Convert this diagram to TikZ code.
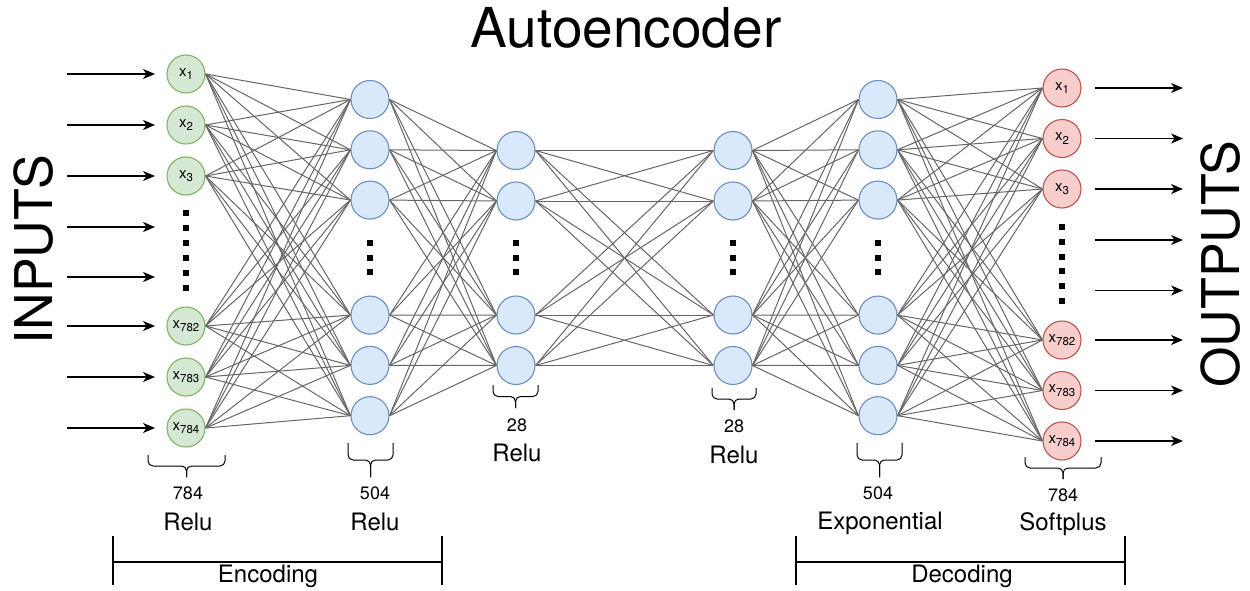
\documentclass[tikz,border=0pt]{standalone}
\usepackage{fontspec}
\setmainfont{TeX Gyre Heros}
\usepackage{xcolor}
\usepackage{tikz}
\usetikzlibrary{arrows.meta,positioning}

\definecolor{inFill}{HTML}{D5E8D4}
\definecolor{inLine}{HTML}{82B366}
\definecolor{hidFill}{HTML}{DAE8FC}
\definecolor{hidLine}{HTML}{6C8EBF}
\definecolor{outFill}{HTML}{F8CECC}
\definecolor{outLine}{HTML}{B85450}
\definecolor{wireGray}{HTML}{666666}

% x with a lowered index, as in the input/output units
\newcommand{\xsub}[1]{x\raisebox{-3.5pt}{\fontsize{11.5}{11.5}\selectfont #1}}

% curly brace under a layer: left, right, top, tip
\newcommand{\layerbrace}[4]{%
  \draw[line width=1pt, rounded corners=5pt] (#1,#3) -- (#1,{(#3+#4)/2}) -- ({(#1+#2)/2},{(#3+#4)/2}) -- ({(#1+#2)/2},#4);
  \draw[line width=1pt, rounded corners=5pt] (#2,#3) -- (#2,{(#3+#4)/2}) -- ({(#1+#2)/2},{(#3+#4)/2}) -- ({(#1+#2)/2},#4);
}

\begin{document}
\begin{tikzpicture}[x=1pt, y=-1pt, on grid, node distance=50.5pt]

\tikzstyle{neuron}=[
    circle,
    draw,
    line width=1.1pt,
    minimum size=38pt,
    inner sep=0pt,
    font=\fontsize{15}{15}\selectfont
]
\tikzstyle{innode}=[neuron, fill=inFill, draw=inLine]
\tikzstyle{hidnode}=[neuron, fill=hidFill, draw=hidLine]
\tikzstyle{outnode}=[neuron, fill=outFill, draw=outLine]
\tikzstyle{vdot}=[rectangle, fill=black, minimum size=6pt, inner sep=0pt]
\tikzstyle{wire}=[draw=wireGray, line width=1pt]
\tikzstyle{signal}=[-{Stealth[length=12pt, width=10pt, inset=3.5pt]}, line width=1.1pt]
\tikzstyle{bar}=[line width=2pt]
\tikzstyle{sizelabel}=[anchor=base, inner sep=0pt, font=\fontsize{18}{18}\selectfont]
\tikzstyle{actlabel}=[anchor=base, inner sep=0pt, font=\fontsize{24}{24}\selectfont]

\useasboundingbox (0,0) rectangle (1250,591);

% title and side captions
\node[anchor=base, font=\fontsize{55}{55}\selectfont] (Title) at (626,48) {Autoencoder};
\node[rotate=90, inner sep=0pt, font=\fontsize{52}{52}\selectfont] (In) at (34,250) {INPUTS};
\node[rotate=90, inner sep=0pt, font=\fontsize{52}{52}\selectfont] (Out) at (1221,264) {OUTPUTS};

% input layer
\node[innode] (I_1) at (186,74) {\xsub{1}};
\node[innode] (I_2) [below=51pt of I_1] {\xsub{2}};
\node[innode] (I_3) [below=51pt of I_2] {\xsub{3}};
\node[innode] (I_4) [below=150pt of I_3] {\xsub{782}};
\node[innode] (I_5) [below=51pt of I_4] {\xsub{783}};
\node[innode] (I_6) [below=51pt of I_5] {\xsub{784}};

% encoder hidden layer
\node[hidnode] (A_1) at (370,99.5) {};
\node[hidnode] (A_2) [below=50.3pt of A_1] {};
\node[hidnode] (A_3) [below=50.3pt of A_2] {};
\node[hidnode] (A_4) [below=115pt of A_3] {};
\node[hidnode] (A_5) [below=50.3pt of A_4] {};
\node[hidnode] (A_6) [below=50.3pt of A_5] {};

% code layers
\node[hidnode] (B_1) at (516,150.5) {};
\node[hidnode] (B_2) [below=of B_1] {};
\node[hidnode] (B_3) [below=114pt of B_2] {};
\node[hidnode] (B_4) [below=of B_3] {};

\node[hidnode] (C_1) at (733,150.5) {};
\node[hidnode] (C_2) [below=of C_1] {};
\node[hidnode] (C_3) [below=114pt of C_2] {};
\node[hidnode] (C_4) [below=of C_3] {};

% decoder hidden layer
\node[hidnode] (D_1) at (878,99.5) {};
\node[hidnode] (D_2) [below=50.3pt of D_1] {};
\node[hidnode] (D_3) [below=50.3pt of D_2] {};
\node[hidnode] (D_4) [below=115pt of D_3] {};
\node[hidnode] (D_5) [below=50.3pt of D_4] {};
\node[hidnode] (D_6) [below=50.3pt of D_5] {};

% output layer
\node[outnode] (O_1) at (1062,88) {\xsub{1}};
\node[outnode] (O_2) [below=of O_1] {\xsub{2}};
\node[outnode] (O_3) [below=of O_2] {\xsub{3}};
\node[outnode] (O_4) [below=151pt of O_3] {\xsub{782}};
\node[outnode] (O_5) [below=of O_4] {\xsub{783}};
\node[outnode] (O_6) [below=of O_5] {\xsub{784}};

% skipped units
\foreach \k in {0,...,5} \node[vdot] (I_dot\k) at (186,{213+15*\k}) {};
\foreach \k in {0,...,5} \node[vdot] (O_dot\k) at (1062,{227+14.8*\k}) {};
\foreach \col/\x in {A/370, B/516, C/733, D/878}
    \foreach \k in {0,1,2} \node[vdot] (\col_dot\k) at (\x,{243+14.5*\k}) {};

% weights
\foreach \i in {1,...,6} \foreach \j in {1,...,6} \path[wire] (I_\i.east) -- (A_\j.west);
\foreach \i in {1,...,6} \foreach \j in {1,...,4} \path[wire] (A_\i.east) -- (B_\j.west);
\foreach \i in {1,...,4} \foreach \j in {1,...,4} \path[wire] (B_\i.east) -- (C_\j.west);
\foreach \i in {1,...,4} \foreach \j in {1,...,6} \path[wire] (C_\i.east) -- (D_\j.west);
\foreach \i in {1,...,6} \foreach \j in {1,...,6} \path[wire] (D_\i.east) -- (O_\j.west);

% incoming signals
\foreach \i in {1,...,6} {
    \coordinate[left=119pt of I_\i] (in_s\i);
    \coordinate[left=31pt of I_\i] (in_e\i);
}
\coordinate[below=51pt of in_s3] (in_s7);
\coordinate[below=51pt of in_e3] (in_e7);
\coordinate[below=50pt of in_s7] (in_s8);
\coordinate[below=50pt of in_e7] (in_e8);
\foreach \i in {1,...,8} \draw[signal] (in_s\i) -- (in_e\i);

% outgoing signals
\foreach \i in {1,...,6} {
    \coordinate[right=33pt of O_\i] (out_s\i);
    \coordinate[right=121pt of O_\i] (out_e\i);
}
\coordinate[below=51pt of out_s3] (out_s7);
\coordinate[below=51pt of out_e3] (out_e7);
\coordinate[below=50.5pt of out_s7] (out_s8);
\coordinate[below=50.5pt of out_e7] (out_e8);
\foreach \i in {1,...,8} \draw[signal] (out_s\i) -- (out_e\i);

% layer sizes and activations
\layerbrace{148}{225}{455}{477}
\layerbrace{348}{393}{443}{477}
\layerbrace{493}{538}{385}{408}
\layerbrace{712}{756}{388}{410}
\layerbrace{857}{902}{443}{477}
\layerbrace{1025}{1101}{457}{479}

\node[sizelabel] (I_size) at (188,499.5) {784};
\node[actlabel] (I_act) at (188,530) {Relu};
\node[sizelabel] (A_size) at (375,499.5) {504};
\node[actlabel] (A_act) at (375,530) {Relu};
\node[sizelabel] (B_size) at (517,431) {28};
\node[actlabel] (B_act) at (517,461) {Relu};
\node[sizelabel] (C_size) at (734,432) {28};
\node[actlabel] (C_act) at (734,463) {Relu};
\node[sizelabel] (D_size) at (878,499.5) {504};
\node[actlabel] (D_act) at (880,529) {Exponential};
\node[sizelabel] (O_size) at (1063,501) {784};
\node[actlabel] (O_act) at (1063,530) {Softplus};

% encoding / decoding spans
\coordinate (enc_l) at (113,562);
\coordinate (enc_r) at (442,562);
\coordinate (dec_l) at (796,562);
\coordinate (dec_r) at (1125,562);
\draw[bar] (enc_l) -- (enc_r);
\draw[bar] ([yshift=26pt]enc_l) -- ([yshift=-23pt]enc_l);
\draw[bar] ([yshift=26pt]enc_r) -- ([yshift=-23pt]enc_r);
\draw[bar] (dec_l) -- (dec_r);
\draw[bar] ([yshift=26pt]dec_l) -- ([yshift=-23pt]dec_l);
\draw[bar] ([yshift=26pt]dec_r) -- ([yshift=-23pt]dec_r);
\node[actlabel] (Enc) at (268,582) {Encoding};
\node[actlabel] (Dec) at (962,582) {Decoding};

\end{tikzpicture}
\end{document}
